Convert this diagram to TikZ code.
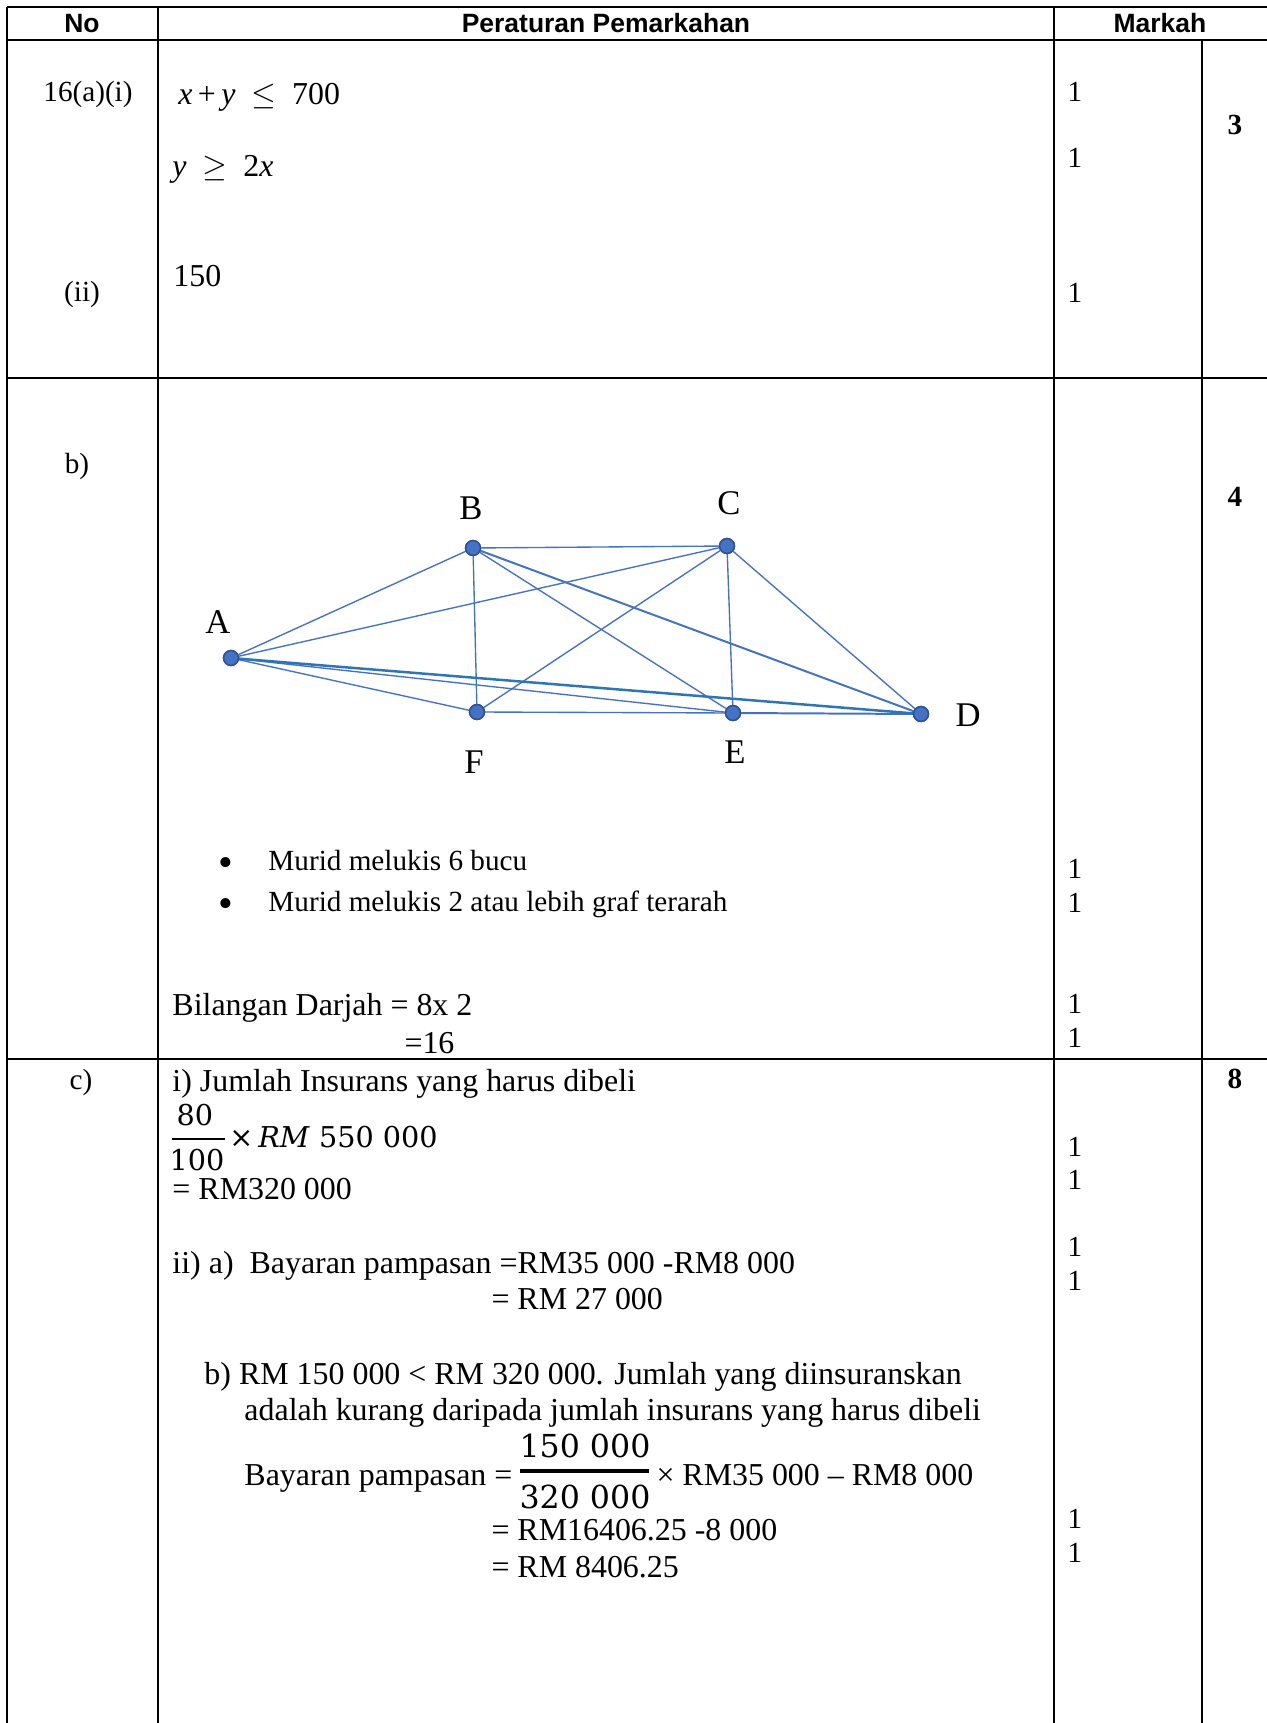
\RequirePackage{fix-cm}
\documentclass[tikz,border=0pt]{standalone}
\usepackage{fontspec}
\setmainfont{Liberation Serif}
\newfontfamily\hdrfont{Liberation Sans}
\newfontfamily\cmb{DejaVu Serif}
\definecolor{vblue}{HTML}{4472C4}
\definecolor{vdark}{HTML}{2F528F}
\definecolor{vline}{HTML}{2E75B6}
\begin{document}
\begin{tikzpicture}[x=0.4042pt,y=-0.4042pt,
  grid/.style={line width=1pt,black},
  hdr/.style={font=\hdrfont\bfseries\fontsize{10.7}{12}\selectfont, anchor=base, inner sep=0},
  txa/.style={font=\fontsize{11.8}{14}\selectfont, anchor=base west, inner sep=0},
  txc/.style={font=\fontsize{12.9}{15}\selectfont, anchor=base west, inner sep=0},
  mk/.style={font=\fontsize{11.8}{14}\selectfont, anchor=base, inner sep=0},
  tot/.style={font=\bfseries\fontsize{11.8}{14}\selectfont, anchor=base, inner sep=0},
  bul/.style={font=\fontsize{17}{19}\selectfont, anchor=center, inner sep=0},
  vtx/.style={circle, fill=vblue, draw=vdark, line width=0.6pt, inner sep=0, minimum size=6pt},
  edg/.style={vblue, line width=0.55pt},
  lbl/.style={font=\fontsize{14}{16}\selectfont, anchor=center, inner sep=0},
  frc/.style={font=\cmb\fontsize{11.6}{13}\selectfont, anchor=base, inner sep=0},
  frb/.style={font=\cmb\fontsize{12.8}{15}\selectfont, anchor=base, inner sep=0},
]
\useasboundingbox[fill=white] (0,0) rectangle (1267,1723);
% table grid
\draw[grid] (7,7) -- (1267,7);
\draw[grid] (7,40) -- (1267,40);
\draw[grid] (7,378) -- (1267,378);
\draw[grid] (7,1059) -- (1267,1059);
\draw[grid] (7,7) -- (7,1723);
\draw[grid] (158,7) -- (158,1723);
\draw[grid] (1054,7) -- (1054,1723);
\draw[grid] (1202,40) -- (1202,1723);
% header
\node[hdr] (hno) at (82,33) {No};
\node[hdr] (hrule) at (606,33) {Peraturan Pemarkahan};
\node[hdr] (hmark) at (1160,33) {Markah};
% row a
\node[txa, anchor=base] (qa) at (88,102) {16(a)(i)};
\node[txc] (ineqA) at (178,105) {\textit{x}\,+\,\textit{y}\enspace$\leq$\enspace700};
\node[txc] (ineqB) at (172,177) {\textit{y}\enspace$\geq$\enspace2\textit{x}};
\node[txc] (ans150) at (173,287) {150};
\node[txa, anchor=base] (qaii) at (82,302) {(ii)};
\node[mk] (ma1) at (1075,102) {1};
\node[mk] (ma2) at (1075,168) {1};
\node[mk] (ma3) at (1075,303) {1};
\node[tot] (ta) at (1235,135) {3};
% row b
\node[txa, anchor=base] (qb) at (77,474) {b)};
\node[tot] (tb) at (1235,507) {4};
\node[vtx] (A) at (231,658) {};
\node[vtx] (B) at (473,548) {};
\node[vtx] (C) at (727,546) {};
\node[vtx] (D) at (921,714) {};
\node[vtx] (E) at (733,713) {};
\node[vtx] (F) at (477,712) {};
\node[lbl] (lA) at (218,622) {A};
\node[lbl] (lB) at (471,508) {B};
\node[lbl] (lC) at (729,503) {C};
\node[lbl] (lD) at (968,715) {D};
\node[lbl] (lE) at (735,752) {E};
\node[lbl] (lF) at (474,762) {F};
\draw[edg] (A) -- (B);
\draw[edg] (A) -- (C);
\draw[edg] (A) -- (E);
\draw[edg] (A) -- (F);
\draw[edg] (B) -- (C);
\draw[edg] (B) -- (F);
\draw[edg] (B) -- (E);
\draw[edg, line width=0.8pt] (B) -- (D);
\draw[edg] (C) -- (F);
\draw[edg] (C) -- (E);
\draw[edg] (C) -- (D);
\draw[edg] (F) -- (E);
\draw[edg, line width=0.8pt] (E) -- (D);
\draw[vline, line width=1pt] (A) -- (D);
\node[vtx] at (A) {};
\node[vtx] at (B) {};
\node[vtx] at (C) {};
\node[vtx] at (D) {};
\node[vtx] at (E) {};
\node[vtx] at (F) {};
\node[bul] (bul1) at (226,867) {•};
\node[bul] (bul2) at (226,908) {•};
\node[txa] (crit1) at (268,870) {Murid melukis 6 bucu};
\node[txa] (crit2) at (268,911) {Murid melukis 2 atau lebih graf terarah};
\node[mk] (mb1) at (1075,878) {1};
\node[mk] (mb2) at (1075,912) {1};
\node[txc] (deg1) at (172,1015) {Bilangan Darjah = 8x 2};
\node[txc] (deg2) at (404,1053) {=16};
\node[mk] (mb3) at (1075,1013) {1};
\node[mk] (mb4) at (1075,1047) {1};
% row c
\node[txa, anchor=base] (qc) at (81,1089) {c)};
\node[tot] (tc) at (1235,1088) {8};
\node[txc] (ci) at (172,1091) {i) Jumlah Insurans yang harus dibeli};
\node[frc] (num80) at (195,1125) {80};
\draw[line width=1.2pt] (172,1139) -- (225,1139);
\node[frc] (den100) at (197,1170) {100};
\node[frc, anchor=base west] (times550) at (229,1147) {×\,\textit{RM} 550 000};
\node[txc] (ci2) at (172,1199) {= RM320 000};
\node[mk] (mc1) at (1075,1156) {1};
\node[mk] (mc2) at (1075,1189) {1};
\node[mk] (mc3) at (1075,1256) {1};
\node[mk] (mc4) at (1075,1290) {1};
\node[mk] (mc5) at (1075,1528) {1};
\node[mk] (mc6) at (1075,1562) {1};
\node[txc] (iia) at (172,1273) {ii) a)\enspace Bayaran pampasan =RM35 000 -RM8 000};
\node[txc] (iia2) at (491,1309) {= RM 27 000};
\node[txc] (iib) at (204,1384) {b) RM 150 000 < RM 320 000. Jumlah yang diinsuranskan};
\node[txc] (iib2) at (244,1420) {adalah kurang daripada jumlah insurans yang harus dibeli};
\node[txc] (iib3) at (244,1485) {Bayaran pampasan =};
\node[frb] (num150) at (585,1457) {150 000};
\draw[line width=1.4pt] (520,1471) -- (649,1471);
\node[frb] (den320) at (585,1508) {320 000};
\node[txc] (iib4) at (656,1485) {× RM35 000 – RM8 000};
\node[txc] (iib5) at (491,1540) {= RM16406.25 -8 000};
\node[txc] (iib6) at (491,1577) {= RM 8406.25};
\end{tikzpicture}
\end{document}
